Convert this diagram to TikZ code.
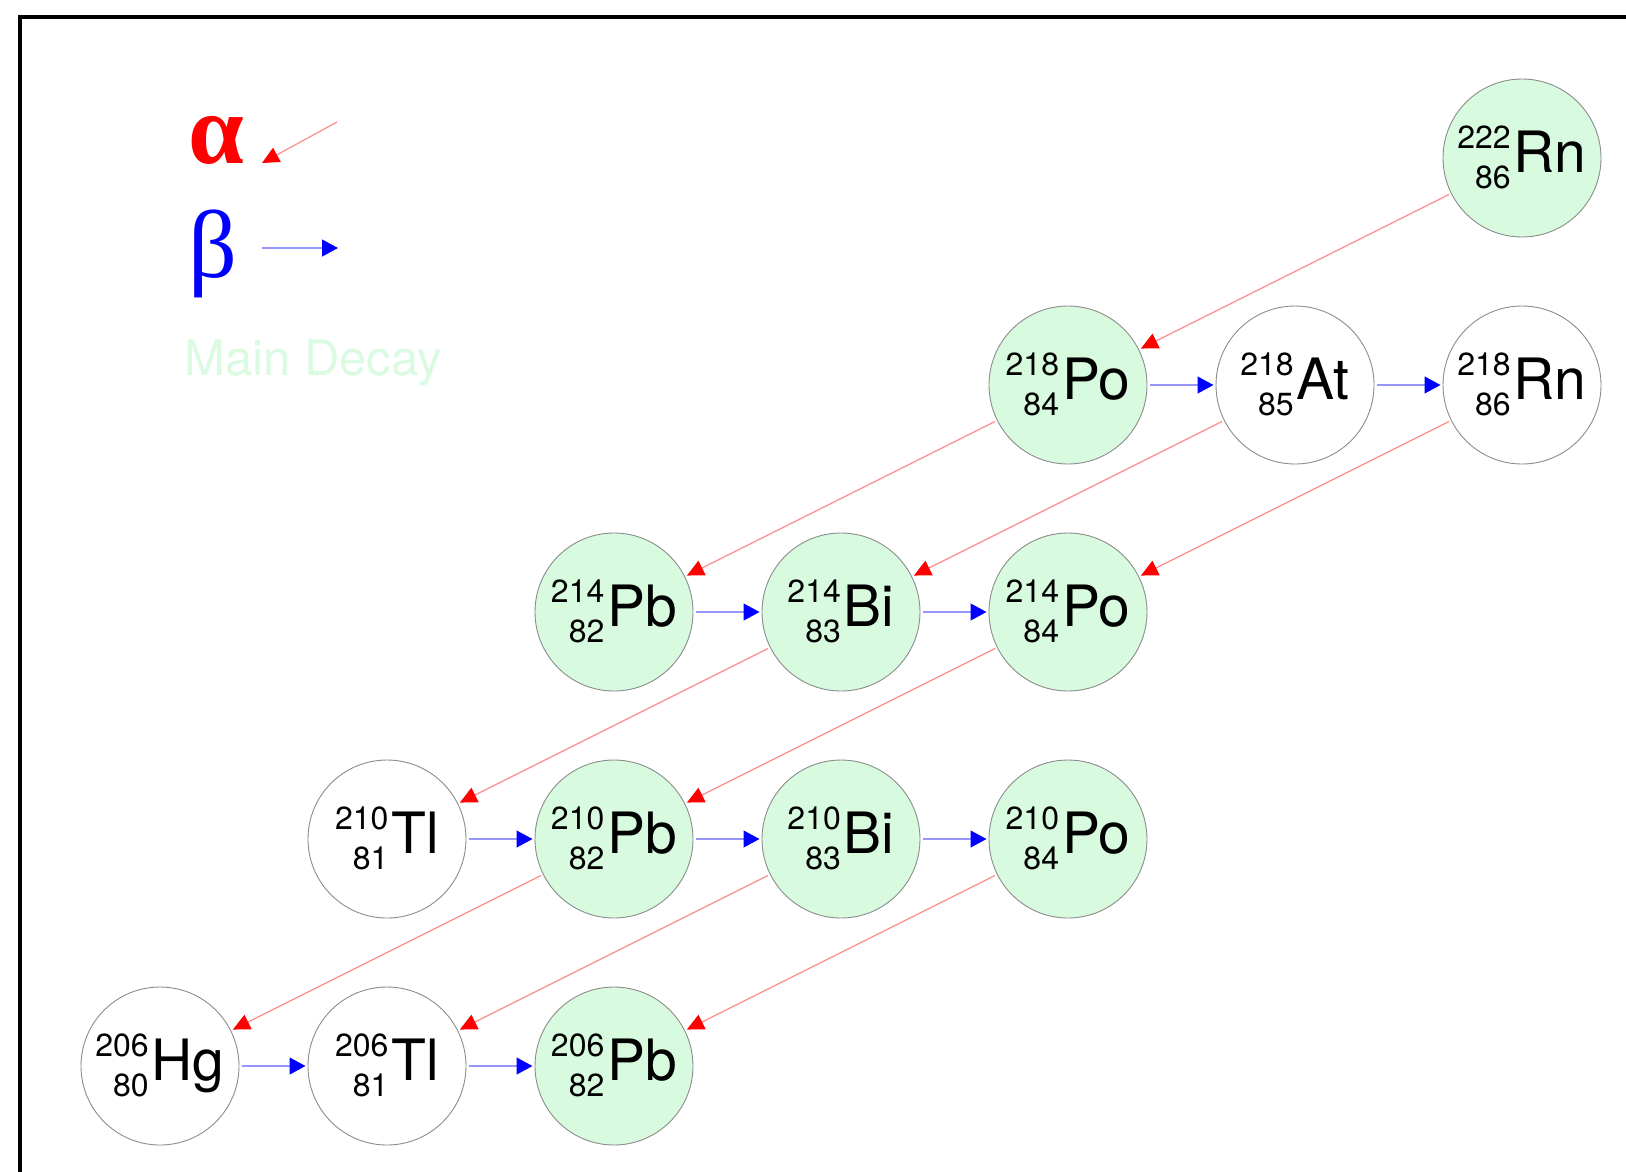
\documentclass[tikz,border=0pt]{standalone}
\usepackage{fontspec}
\setmainfont{TeX Gyre Heros}
\newfontfamily\greekfont{Liberation Serif}
\usetikzlibrary{arrows.meta}
\definecolor{nucgreen}{RGB}{216,250,223}
\definecolor{maintext}{RGB}{218,251,226}
\definecolor{alphaline}{RGB}{255,140,140}
\definecolor{betaline}{RGB}{150,150,255}
\definecolor{nucborder}{RGB}{140,140,140}
\newcommand\isotope[3]{{\fontsize{32}{40}\selectfont\raisebox{-16pt}{\begin{tabular}[b]{@{}r@{}}#1\\#2\end{tabular}}}\kern3pt{\fontsize{57}{57}\selectfont #3}}
\tikzset{
  nuc/.style={circle, draw=nucborder, line width=0.9pt, minimum size=158pt, inner sep=0pt, outer sep=2.5pt, text height=52pt, text depth=24pt},
  mainnuc/.style={nuc, fill=nucgreen},
  sidenuc/.style={nuc, fill=white},
  alphaarrow/.style={draw=alphaline, line width=1.2pt, -{Triangle[length=17pt,width=16pt,color=red]}},
  betaarrow/.style={draw=betaline, line width=1.2pt, -{Triangle[length=16pt,width=17pt,color=blue]}},
  frameline/.style={draw=black, line width=3.5pt}
}
\begin{document}
\begin{tikzpicture}[x=1pt,y=-1pt]
\useasboundingbox (0,0) rectangle (1626,1171);
% frame
\coordinate (fbl) at (20,1173);
\coordinate (ftl) at (20,17);
\coordinate (ftr) at (1628,17);
\draw[frameline] (fbl) -- (ftl) -- (ftr);
% legend
\node[anchor=base, text=red, inner sep=0pt] (alphasym) at (216,163) {\fontsize{100}{100}\selectfont\greekfont\bfseries α};
\node[anchor=base, text=blue, inner sep=0pt] (betasym) at (213,277) {\fontsize{96}{96}\selectfont\greekfont β};
\coordinate (la1) at (337,122);
\coordinate (la2) at (262,163);
\coordinate (lb1) at (262,248);
\coordinate (lb2) at (338,248);
\draw[alphaarrow] (la1) -- (la2);
\draw[betaarrow] (lb1) -- (lb2);
\node[anchor=base west, text=maintext, inner sep=0pt] (maindecay) at (184,375) {\fontsize{49}{49}\selectfont Main Decay};
% nuclides
\node[mainnuc] (rn222) at (1522,158) {\isotope{222}{86}{Rn}};
\node[mainnuc] (po218) at (1068,385) {\isotope{218}{84}{Po}};
\node[sidenuc] (at218) at (1295,385) {\isotope{218}{85}{At}};
\node[sidenuc] (rn218) at (1522,385) {\isotope{218}{86}{Rn}};
\node[mainnuc] (pb214) at (614,612) {\isotope{214}{82}{Pb}};
\node[mainnuc] (bi214) at (841,612) {\isotope{214}{83}{Bi}};
\node[mainnuc] (po214) at (1068,612) {\isotope{214}{84}{Po}};
\node[sidenuc] (tl210) at (387,839) {\isotope{210}{81}{Tl}};
\node[mainnuc] (pb210) at (614,839) {\isotope{210}{82}{Pb}};
\node[mainnuc] (bi210) at (841,839) {\isotope{210}{83}{Bi}};
\node[mainnuc] (po210) at (1068,839) {\isotope{210}{84}{Po}};
\node[sidenuc] (hg206) at (160,1066) {\isotope{206}{80}{Hg}};
\node[sidenuc] (tl206) at (387,1066) {\isotope{206}{81}{Tl}};
\node[mainnuc] (pb206) at (614,1066) {\isotope{206}{82}{Pb}};
% alpha decays
\draw[alphaarrow] (rn222) -- (po218);
\draw[alphaarrow] (po218) -- (pb214);
\draw[alphaarrow] (at218) -- (bi214);
\draw[alphaarrow] (rn218) -- (po214);
\draw[alphaarrow] (bi214) -- (tl210);
\draw[alphaarrow] (po214) -- (pb210);
\draw[alphaarrow] (pb210) -- (hg206);
\draw[alphaarrow] (bi210) -- (tl206);
\draw[alphaarrow] (po210) -- (pb206);
% beta decays
\draw[betaarrow] (po218) -- (at218);
\draw[betaarrow] (at218) -- (rn218);
\draw[betaarrow] (pb214) -- (bi214);
\draw[betaarrow] (bi214) -- (po214);
\draw[betaarrow] (tl210) -- (pb210);
\draw[betaarrow] (pb210) -- (bi210);
\draw[betaarrow] (bi210) -- (po210);
\draw[betaarrow] (hg206) -- (tl206);
\draw[betaarrow] (tl206) -- (pb206);
\end{tikzpicture}
\end{document}
